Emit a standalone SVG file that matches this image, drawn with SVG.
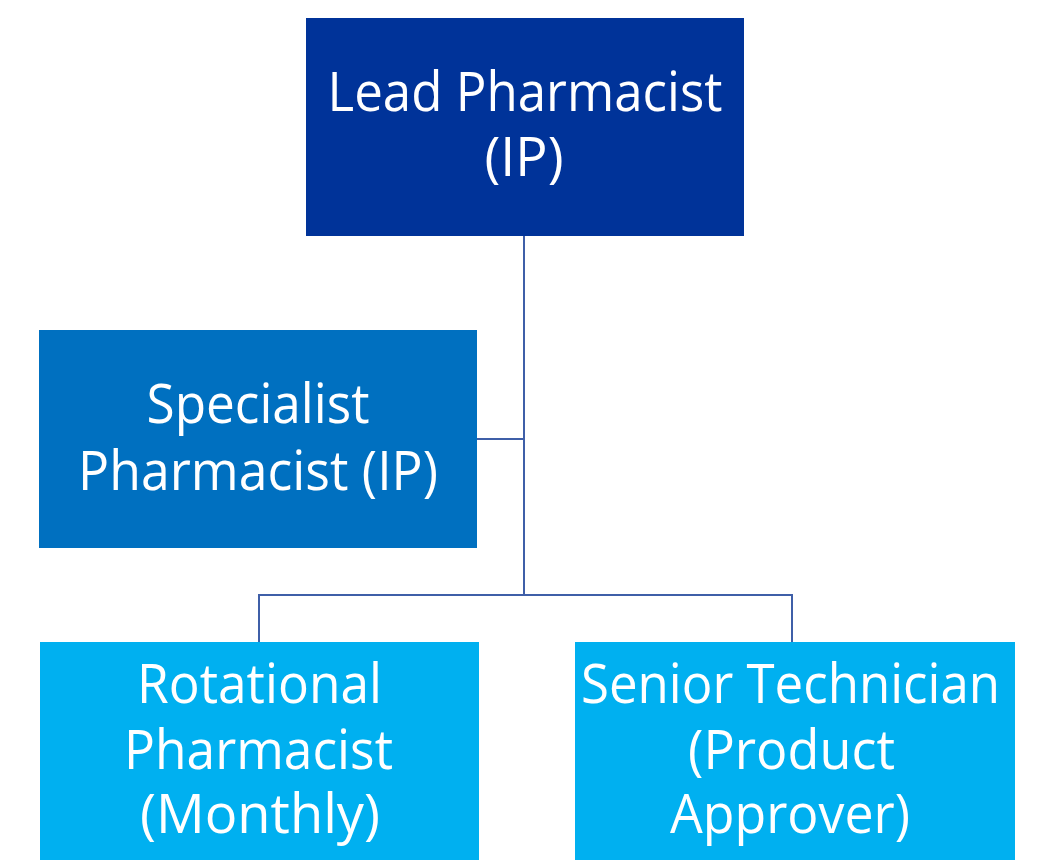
<svg xmlns="http://www.w3.org/2000/svg" width="1061" height="864" viewBox="0 0 1061 864">
  <style>
    .lbl { font-family: "Open Sans", "Liberation Sans", sans-serif; font-size: 54px; fill: #ffffff; text-anchor: middle; }
    .lvl0 { fill: #003399; }
    .lvl1 { fill: #0070C0; }
    .lvl2 { fill: #00B0F0; }
    .wire { stroke: #3F5FA8; stroke-width: 2; fill: none; }
  </style>
  <rect width="1061" height="864" fill="#ffffff"/>

  <!-- connectors -->
  <g id="connectors">
    <path class="wire" d="M524 236 V595"/>
    <path class="wire" d="M477 439 H524"/>
    <path class="wire" d="M259 642 V595 H792 V642"/>
  </g>

  <!-- top: lead pharmacist -->
  <g id="lead">
    <rect class="lvl0" x="306" y="18" width="438" height="218"/>
    <text class="lbl" x="525" y="111" textLength="395" lengthAdjust="spacingAndGlyphs">Lead Pharmacist</text>
    <text class="lbl" x="524" y="176" textLength="79" lengthAdjust="spacingAndGlyphs">(IP)</text>
  </g>

  <!-- assistant: specialist pharmacist -->
  <g id="specialist">
    <rect class="lvl1" x="39" y="330" width="438" height="218"/>
    <text class="lbl" x="258" y="423" textLength="223" lengthAdjust="spacingAndGlyphs">Specialist</text>
    <text class="lbl" x="258" y="490" textLength="360" lengthAdjust="spacingAndGlyphs">Pharmacist (IP)</text>
  </g>

  <!-- reports: rotational pharmacist -->
  <g id="rotational">
    <rect class="lvl2" x="40" y="642" width="439" height="218"/>
    <text class="lbl" x="259.5" y="703" textLength="245" lengthAdjust="spacingAndGlyphs">Rotational</text>
    <text class="lbl" x="258.5" y="769" textLength="269" lengthAdjust="spacingAndGlyphs">Pharmacist</text>
    <text class="lbl" x="260" y="833" textLength="240" lengthAdjust="spacingAndGlyphs">(Monthly)</text>
  </g>

  <!-- reports: senior technician -->
  <g id="technician">
    <rect class="lvl2" x="575" y="642" width="440" height="218"/>
    <text class="lbl" x="790.5" y="703" textLength="419" lengthAdjust="spacingAndGlyphs">Senior Technician</text>
    <text class="lbl" x="791.5" y="769" textLength="207" lengthAdjust="spacingAndGlyphs">(Product</text>
    <text class="lbl" x="790" y="833" textLength="240" lengthAdjust="spacingAndGlyphs">Approver)</text>
  </g>
</svg>
